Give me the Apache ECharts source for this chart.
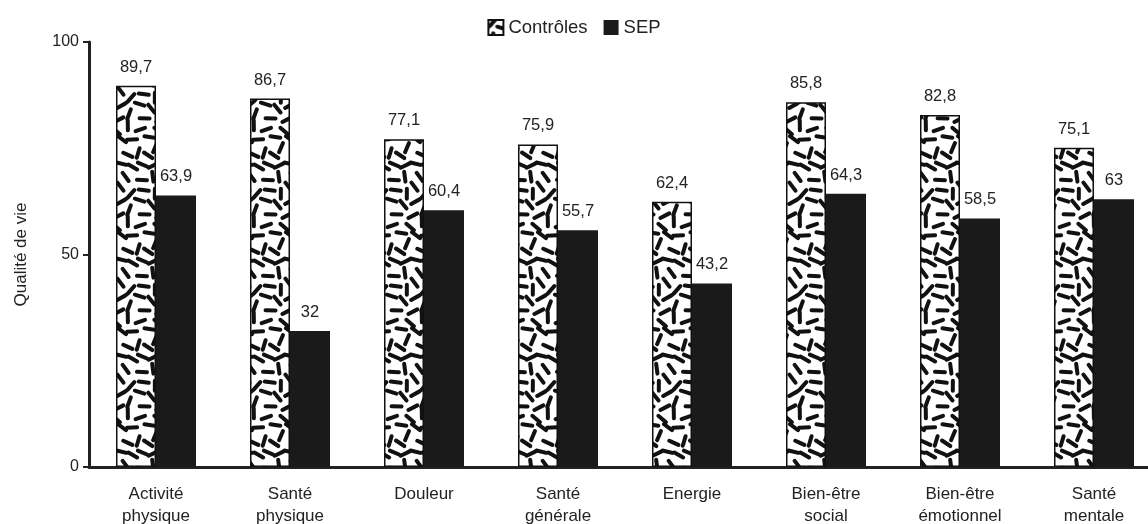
<!DOCTYPE html>
<html><head><meta charset="utf-8">
<script src="https://cdn.jsdelivr.net/npm/echarts@6/dist/echarts.min.js"></script>
<style>html,body{margin:0;padding:0;background:#fff}#c{width:1148px;height:524px}</style>
</head><body><div id="c"></div>
<script>
const categories = ['Activité\nphysique','Santé\nphysique','Douleur','Santé\ngénérale','Energie','Bien-être\nsocial','Bien-être\némotionnel','Santé\nmentale'];
const controles = [89.7, 86.7, 77.1, 75.9, 62.4, 85.8, 82.8, 75.1];
const sep = [63.9, 32, 60.4, 55.7, 43.2, 64.3, 58.5, 63];
const yTicks = [0, 50, 100];

// decorative speckle pattern (deterministic)
function makePattern(){
  const W = 42, H = 96;
  const c = document.createElement('canvas');
  c.width = W; c.height = H;
  const g = c.getContext('2d');
  g.fillStyle = '#fff'; g.fillRect(0,0,W,H);
  g.strokeStyle = '#111'; g.lineWidth = 4; g.lineCap = 'round';
  let s = 987654;
  const rnd = () => { s = (s * 1103515245 + 12345) % 2147483648; return s / 2147483648; };
  const pts = [];
  let tries = 0;
  while (pts.length < 28 && tries < 5000) {
    tries++;
    const x = rnd()*W, y = rnd()*H;
    let ok = true;
    for (const p of pts) {
      let dx = Math.abs(p[0]-x); dx = Math.min(dx, W-dx);
      let dy = Math.abs(p[1]-y); dy = Math.min(dy, H-dy);
      if (dx*dx+dy*dy < 100) { ok = false; break; }
    }
    if (ok) pts.push([x, y]);
  }
  for (const [x, y] of pts) {
    const a = rnd()*Math.PI, L = 5;
    const dx = Math.cos(a)*L, dy = Math.sin(a)*L;
    for (const ox of [-W,0,W]) for (const oy of [-H,0,H]) {
      g.beginPath(); g.moveTo(x-dx+ox, y-dy+oy); g.lineTo(x+dx+ox, y+dy+oy); g.stroke();
    }
  }
  return c;
}
const pat = makePattern();
const fmt = p => String(p.value).replace('.', ',');
const font = 'Liberation Sans, Arial, sans-serif';
const chart = echarts.init(document.getElementById('c'));
chart.setOption({
  animation: false,
  textStyle: {fontFamily: font},
  legend: {
    top: 13, left: 'center', itemWidth: 15, itemHeight: 15, itemGap: 16, icon: 'rect',
    textStyle: {fontSize: 18.5, color: '#222', fontFamily: font},
    data: ['Contrôles', 'SEP']
  },
  grid: {left: 89, top: 42, width: 1072, height: 425, containLabel: false, outerBoundsMode: 'none'},
  xAxis: {
    type: 'category', data: categories,
    axisLine: {lineStyle: {color: '#222', width: 3}},
    axisTick: {show: false},
    axisLabel: {fontSize: 17, color: '#222', margin: 16, lineHeight: 22, interval: 0}
  },
  yAxis: {
    type: 'value', min: 0, max: 100, interval: 50,
    name: 'Qualité de vie', nameLocation: 'middle', nameGap: 59, nameRotate: 90,
    nameTextStyle: {fontSize: 17, color: '#222'},
    axisLine: {show: true, lineStyle: {color: '#222', width: 3}},
    axisTick: {show: true, length: 6, lineStyle: {color: '#222', width: 2}},
    splitLine: {show: false},
    axisLabel: {fontSize: 16, color: '#222', margin: 10,
      formatter: v => yTicks.includes(v) ? String(v) : ''}
  },
  series: [
    {name: 'Contrôles', type: 'bar', data: controles, barWidth: 40, barGap: '0%',
     itemStyle: {color: {image: pat, repeat: 'repeat'}, borderColor: '#111', borderWidth: 1.5},
     label: {show: true, position: 'top', distance: 10, fontSize: 16.5, color: '#222', formatter: fmt}},
    {name: 'SEP', type: 'bar', data: sep, barWidth: 40,
     itemStyle: {color: '#1a1a1a'},
     label: {show: true, position: 'top', distance: 10, fontSize: 16.5, color: '#222', formatter: fmt}}
  ]
});
</script></body></html>
